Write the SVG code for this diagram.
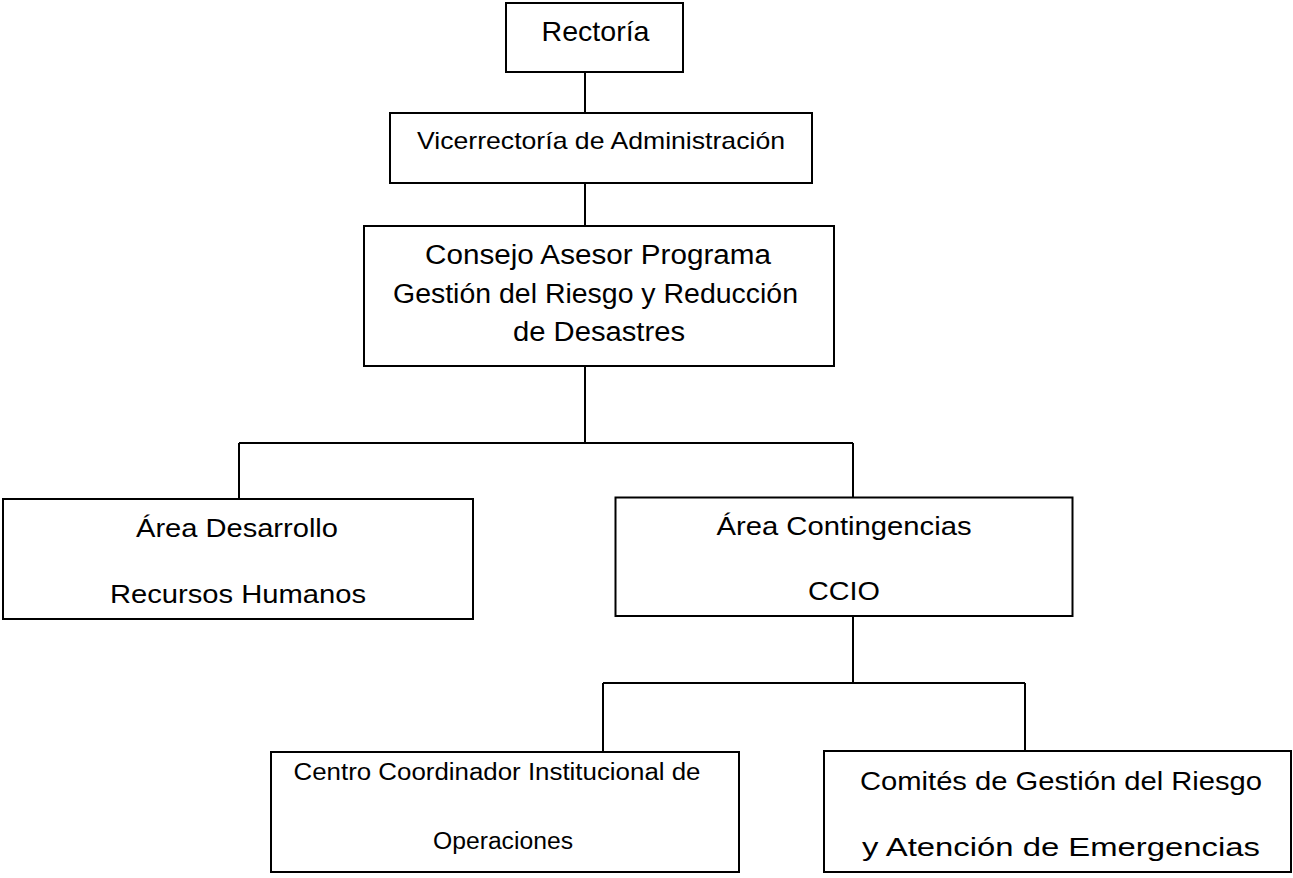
<svg xmlns="http://www.w3.org/2000/svg" width="1293" height="878" viewBox="0 0 1293 878">
<style>
.box{fill:#fff;stroke:#000;stroke-width:2}
.ln{fill:none;stroke:#000;stroke-width:2}
text{font-family:"Liberation Sans",Arial,sans-serif;fill:#000;text-anchor:middle}
</style>
<rect width="1293" height="878" fill="#fff"/>
<g id="connectors">
<path class="ln" d="M585 72V113M585 183V226M585 366V443M239 443H853M239 443V499M853 443V498M853 616V683M603 683H1025M603 683V752M1025 683V751"/>
</g>
<g id="rectoria">
<rect class="box" x="506" y="3" width="177" height="69"/>
<text x="595.5" y="41" font-size="28" textLength="108" lengthAdjust="spacingAndGlyphs">Rectoría</text>
</g>
<g id="vicerrectoria">
<rect class="box" x="390" y="113" width="422" height="70"/>
<text x="601" y="149" font-size="24" textLength="368" lengthAdjust="spacingAndGlyphs">Vicerrectoría de Administración</text>
</g>
<g id="consejo">
<rect class="box" x="364" y="226" width="470" height="140"/>
<text x="598" y="264" font-size="27" textLength="346" lengthAdjust="spacingAndGlyphs">Consejo Asesor Programa</text>
<text x="595.5" y="303" font-size="27" textLength="405" lengthAdjust="spacingAndGlyphs">Gestión del Riesgo y Reducción</text>
<text x="599" y="341" font-size="27" textLength="172" lengthAdjust="spacingAndGlyphs">de Desastres</text>
</g>
<g id="area-desarrollo">
<rect class="box" x="3" y="499" width="470" height="120"/>
<text x="237" y="537" font-size="26.5" textLength="202" lengthAdjust="spacingAndGlyphs">Área Desarrollo</text>
<text x="238" y="603" font-size="26.5" textLength="256" lengthAdjust="spacingAndGlyphs">Recursos Humanos</text>
</g>
<g id="area-contingencias">
<rect class="box" x="615.5" y="497.5" width="457" height="118.5"/>
<text x="844" y="535" font-size="26.5" textLength="255" lengthAdjust="spacingAndGlyphs">Área Contingencias</text>
<text x="844" y="600" font-size="26.5" textLength="72" lengthAdjust="spacingAndGlyphs">CCIO</text>
</g>
<g id="centro-coordinador">
<rect class="box" x="271" y="752" width="468" height="120"/>
<text x="497" y="780" font-size="23" textLength="407" lengthAdjust="spacingAndGlyphs">Centro Coordinador Institucional de</text>
<text x="503" y="849" font-size="23" textLength="140" lengthAdjust="spacingAndGlyphs">Operaciones</text>
</g>
<g id="comites">
<rect class="box" x="824" y="751" width="467" height="121"/>
<text x="1061" y="790" font-size="26" textLength="402" lengthAdjust="spacingAndGlyphs">Comités de Gestión del Riesgo</text>
<text x="1061" y="856" font-size="26" textLength="398" lengthAdjust="spacingAndGlyphs">y Atención de Emergencias</text>
</g>
</svg>
